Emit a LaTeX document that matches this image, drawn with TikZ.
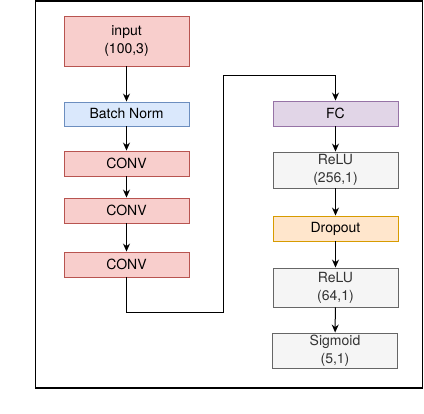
\documentclass[tikz,border=0pt]{standalone}
\usepackage{fontspec}
\setsansfont{TeX Gyre Heros}
\usetikzlibrary{arrows.meta}
\definecolor{redF}{HTML}{F8CECC}\definecolor{redD}{HTML}{B85450}
\definecolor{bluF}{HTML}{DAE8FC}\definecolor{bluD}{HTML}{6C8EBF}
\definecolor{purF}{HTML}{E1D5E7}\definecolor{purD}{HTML}{9673A6}
\definecolor{orgF}{HTML}{FFE6CC}\definecolor{orgD}{HTML}{D79B00}
\definecolor{gryF}{HTML}{F5F5F5}\definecolor{gryD}{HTML}{666666}
\definecolor{gryT}{HTML}{333333}
\begin{document}
\begin{tikzpicture}[x=1pt,y=-1pt,
  blk/.style={draw, rectangle, line width=0.9pt, minimum width=125pt, inner sep=0pt, align=center,
    font=\sffamily\fontsize{14}{18}\selectfont},
  redbox/.style={blk, fill=redF, draw=redD},
  bluebox/.style={blk, fill=bluF, draw=bluD},
  purbox/.style={blk, fill=purF, draw=purD},
  orgbox/.style={blk, fill=orgF, draw=orgD},
  grybox/.style={blk, fill=gryF, draw=gryD, text=gryT},
  conn/.style={line width=1pt, -{Stealth[length=8pt,width=7pt]}}]
\useasboundingbox (0,0) rectangle (424,414);
\draw[line width=1.6pt] (35.5,1) rectangle (422.5,388);
\node[redbox, minimum height=50pt] (inp) at (126.5,41) {input\\(100,3)};
\node[bluebox, minimum height=24pt] (bn) at (126.5,114) {Batch Norm};
\node[redbox, minimum height=25pt] (c1) at (126.5,163.5) {CONV};
\node[redbox, minimum height=25pt] (c2) at (126.5,210.5) {CONV};
\node[redbox, minimum height=25pt] (c3) at (126.5,264.5) {CONV};
\node[purbox, minimum height=25pt] (fc) at (335.5,113.5) {FC};
\node[grybox, minimum height=36pt] (r1) at (335.5,170) {ReLU\\(256,1)};
\node[orgbox, minimum height=25pt] (dr) at (335.5,228.5) {Dropout};
\node[grybox, minimum height=39pt] (r2) at (335.5,287.5) {ReLU\\(64,1)};
\node[grybox, minimum height=35pt] (sg) at (335,350.5) {Sigmoid\\(5,1)};
\coordinate (k1) at (126.5,313);
\coordinate (k2) at (223,313);
\coordinate (k3) at (223,76);
\coordinate (k4) at (335.5,76);
\draw[conn] (inp) -- (bn);
\draw[conn] (bn) -- (c1);
\draw[conn] (c1) -- (c2);
\draw[conn] (c2) -- (c3);
\draw[conn] (c3.south) -- (k1) -- (k2) -- (k3) -- (k4) -- (fc.north);
\draw[conn] (fc) -- (r1);
\draw[conn] (r1) -- (dr);
\draw[conn] (dr) -- (r2);
\draw[conn] (r2) -- (sg);
\begin{scope}
\clip (0,0) rectangle (424,414);
\node[anchor=base west, inner sep=0pt, text=black!75, font=\itshape\fontsize{30}{32}\selectfont] (cap) at (-16,441) {CNN Model};
\end{scope}
\end{tikzpicture}
\end{document}
